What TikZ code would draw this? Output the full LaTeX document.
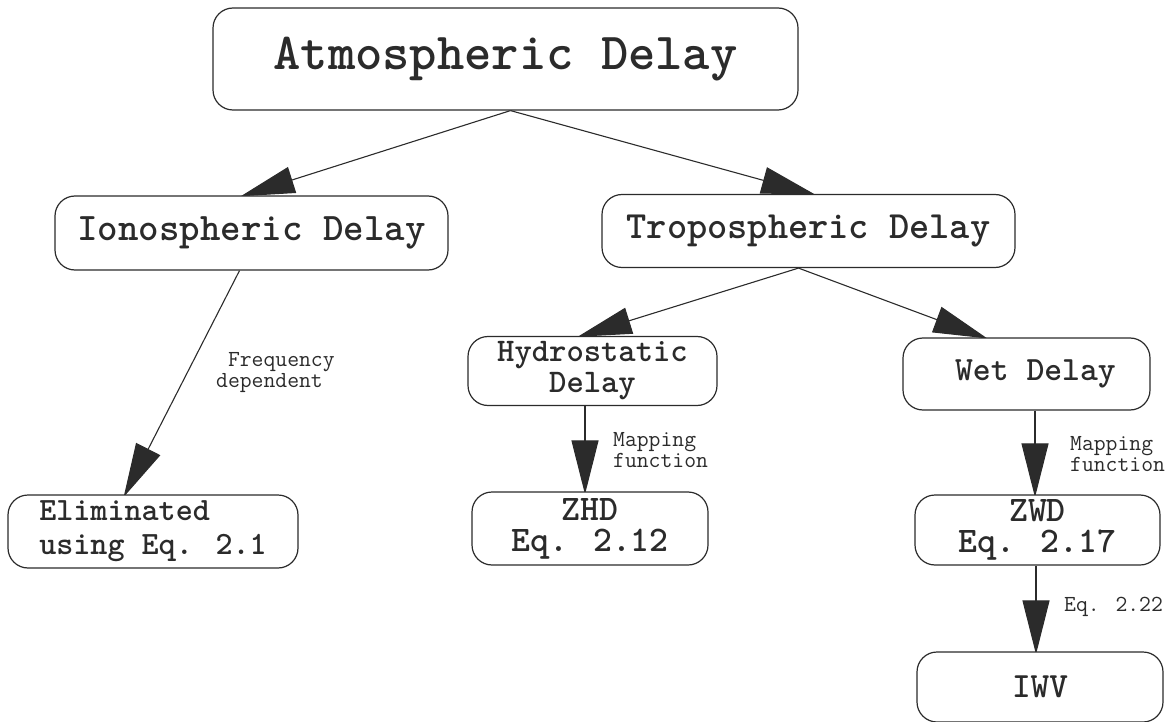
\documentclass[tikz,border=0pt]{standalone}
\usetikzlibrary{arrows.meta,backgrounds}
\definecolor{ink}{HTML}{2B2B2B}
\newcommand\fs[2]{\fontsize{#1}{#2}\selectfont}
\newcommand\cour{\ttfamily}
\begin{document}
\begin{tikzpicture}[x=1pt,y=-1pt,
  box/.style={draw=ink, line width=1.2pt, rounded corners=20pt, fill=white,
    inner sep=0pt, text=ink},
  conn/.style={draw=ink, line width=1.1pt, shorten >=-3pt,
    -{Triangle[length=54pt,width=27pt]}},
  lbl/.style={font=\cour\fs{23}{21}, text=ink, inner sep=0pt,
    anchor=north west, align=left}]
\useasboundingbox (0,0) rectangle (1170,722);

\node[box, minimum width=585pt, minimum height=102pt, font=\cour\bfseries\fs{52}{52}] (atm) at (505.5,59) {Atmospheric Delay};
\node[box, minimum width=393pt, minimum height=74pt, font=\cour\bfseries\fs{39}{39}] (iono) at (251.5,233) {Ionospheric Delay};
\node[box, minimum width=413pt, minimum height=73pt, font=\cour\bfseries\fs{38.5}{38}] (tropo) at (808.5,231) {Tropospheric Delay};
\node[box, minimum width=249pt, minimum height=69pt, align=center, font=\cour\bfseries\fs{33}{31}] (hydro) at (592.5,371) {Hydrostatic\\Delay};
\node[box, minimum width=247pt, minimum height=72pt, font=\cour\bfseries\fs{34}{34}] (wet) at (1026.5,374) {~Wet Delay};
\node[box, minimum width=236pt, minimum height=73pt, align=center, font=\cour\bfseries\fs{36}{31}] (zhd) at (590,528.5) {ZHD\\Eq. 2.12};
\node[box, minimum width=245pt, minimum height=70pt, align=center, font=\cour\bfseries\fs{36}{31}] (zwd) at (1037.5,530) {ZWD\\Eq. 2.17};
\node[box, minimum width=246pt, minimum height=70pt, font=\cour\bfseries\fs{35.5}{35}] (iwv) at (1040,687) {IWV};
\node[box, minimum width=290pt, minimum height=73pt, align=left, font=\cour\bfseries\fs{32.5}{34}] (elim) at (153,531.5) {Eliminated\\using Eq. 2.1};

\node[lbl] (lf) at (216,352) {~Frequency\\dependent};
\node[lbl] (lm1) at (613,432) {Mapping\\function};
\node[lbl] (lm2) at (1070,436) {Mapping\\function};
\node[lbl] (le) at (1064,597) {Eq. 2.22};

\begin{scope}[on background layer]
\draw[conn] ([xshift=5pt]atm.south) -- ([xshift=-8pt]iono.north);
\draw[conn] ([xshift=5pt]atm.south) -- ([xshift=4pt]tropo.north);
\draw[conn] ([xshift=-10pt]tropo.south) -- ([xshift=-12pt]hydro.north);
\draw[conn] ([xshift=-10pt]tropo.south) -- ([xshift=-42pt]wet.north);
\draw[conn] ([xshift=-12pt]iono.south) -- ([xshift=-28pt]elim.north);
\draw[conn] ([xshift=-7.5pt]hydro.south) -- ([xshift=-5pt]zhd.north);
\draw[conn] ([xshift=8.5pt]wet.south) -- ([xshift=-2.5pt]zwd.north);
\draw[conn] ([xshift=-1.5pt]zwd.south) -- ([xshift=-4pt]iwv.north);
\end{scope}
\end{tikzpicture}
\end{document}
